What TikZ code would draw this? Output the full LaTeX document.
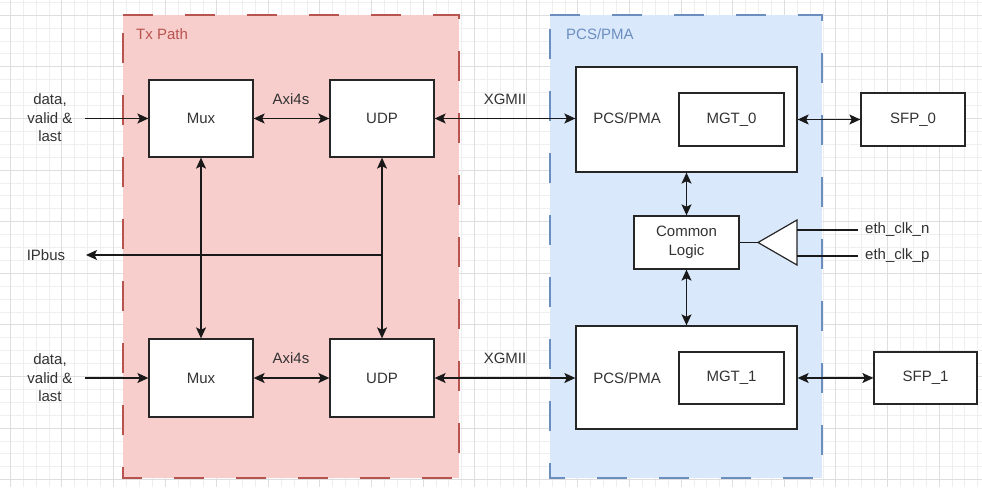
\documentclass[tikz,border=0pt]{standalone}
\usepackage{fontspec}
\setmainfont{Liberation Sans}
\usetikzlibrary{arrows.meta,calc}
\definecolor{redfill}{HTML}{F8CECC}
\definecolor{redline}{HTML}{B85450}
\definecolor{bluefill}{HTML}{DAE8FC}
\definecolor{blueline}{HTML}{6C8EBF}
\definecolor{txt}{HTML}{333333}
\definecolor{gridminor}{HTML}{EFEFEF}
\definecolor{gridmajor}{HTML}{DEDEDE}
\begin{document}
\begin{tikzpicture}[x=1pt,y=-1pt,
  font=\fontsize{15}{18.5}\selectfont,
  blk/.style={draw=black!85, line width=1.3pt, fill=white, text=txt, inner sep=0pt},
  lbl/.style={text=txt, inner sep=0pt, align=center},
  conn/.style={line width=1.3pt, draw=black!90},
  tipa/.tip={Stealth[length=11pt,width=10pt,inset=2.5pt]},
  bi/.style={conn, tipa-tipa},
  uni/.style={conn, -tipa},
  cont/.style={line width=2.6pt, dash pattern=on 30pt off 32pt},
]
\useasboundingbox (0,0) rectangle (982,487);
\fill[white] (0,0) rectangle (982,487);
% grid
\foreach \k in {0,...,75} \draw[gridminor, line width=0.6pt] ({10.1+12.9*\k},0) -- ++(0,487);
\foreach \k in {0,...,37} \draw[gridminor, line width=0.6pt] (0,{2.2+12.9*\k}) -- ++(982,0);
\foreach \k in {0,...,18} \draw[gridmajor, line width=0.8pt] ({10.1+51.6*\k},0) -- ++(0,487);
\foreach \k in {0,...,9} \draw[gridmajor, line width=0.8pt] (0,{15.1+51.6*\k}) -- ++(982,0);

% containers
\fill[redfill] (123,15) rectangle (459,478);
\draw[cont, draw=redline] (123,15) -- (459,15) -- (459,478) -- (123,478) -- cycle;
\fill[bluefill] (550,15) rectangle (822,478);
\draw[cont, draw=blueline] (550,15) -- (822,15) -- (822,478) -- (550,478) -- cycle;
\node[anchor=west, inner sep=0pt, text=redline] (txlbl) at (136,34) {Tx Path};
\node[anchor=west, inner sep=0pt, text=blueline] (pcslbl) at (566,34) {PCS/PMA};

% blocks
\node[blk, minimum width=104pt, minimum height=77pt] (mux0) at (201,118.5) {Mux};
\node[blk, minimum width=104pt, minimum height=77pt] (udp0) at (382,118.5) {UDP};
\node[blk, minimum width=104pt, minimum height=78pt] (mux1) at (201,378) {Mux};
\node[blk, minimum width=104pt, minimum height=78pt] (udp1) at (382,378) {UDP};
\node[blk, minimum width=221pt, minimum height=105pt] (pcs0) at (686.5,119.5) {};
\node[blk, minimum width=221pt, minimum height=103pt] (pcs1) at (686.5,377.5) {};
\node[lbl] (pcs0t) at (627,118.5) {PCS/PMA};
\node[lbl] (pcs1t) at (627,378) {PCS/PMA};
\node[blk, minimum width=105pt, minimum height=53pt] (mgt0) at (731.5,119.5) {MGT\_0};
\node[blk, minimum width=105pt, minimum height=52pt] (mgt1) at (731.5,378) {MGT\_1};
\node[blk, minimum width=104pt, minimum height=53pt] (sfp0) at (913,119.5) {SFP\_0};
\node[blk, minimum width=103pt, minimum height=52pt] (sfp1) at (925.5,378) {SFP\_1};
\node[blk, minimum width=105pt, minimum height=53pt, align=center] (common) at (686.5,242.5) {Common\\Logic};

% buffer triangle
\coordinate (tip) at (758,242.5);
\coordinate (btop) at (797,220);
\coordinate (bbot) at (797,265);
\draw[line width=1.2pt, draw=black!85, fill=white] (tip) -- (btop) -- (bbot) -- cycle;
\coordinate (bn) at (797,230);
\coordinate (bp) at (797,256);
\node[lbl, anchor=west] (ethn) at (865,230) {eth\_clk\_n};
\node[lbl, anchor=west] (ethp) at (865,256) {eth\_clk\_p};
\draw[conn, line width=1.1pt] (bn) -- ($(bn -| ethn.west)+(-7,0)$);
\draw[conn, line width=1.1pt] (bp) -- ($(bp -| ethp.west)+(-7,0)$);
\draw[conn, line width=1.1pt] (common.east) -- (tip);

% labels
\node[lbl] (in0) at (50,118) {data,\\valid \&\\last};
\node[lbl] (in1) at (50,378) {data,\\valid \&\\last};
\coordinate (in0s) at (85,118.5);
\coordinate (in1s) at (85,378);
\node[lbl] (ipbus) at (46,255) {IPbus};
\coordinate (ipbe) at (86,255);
\node[lbl] (axi0) at (291,99) {Axi4s};
\node[lbl] (axi1) at (291,358) {Axi4s};
\node[lbl] (xg0) at (505,99) {XGMII};
\node[lbl] (xg1) at (505,358) {XGMII};

% connectors
\draw[uni] (in0s) -- (mux0.west);
\draw[uni] (in1s) -- (mux1.west);
\draw[bi] (mux0.east) -- (udp0.west);
\draw[bi] (mux1.east) -- (udp1.west);
\draw[bi] (udp0.east) -- (udp0.east -| pcs0.west);
\draw[bi] (udp1.east) -- (udp1.east -| pcs1.west);
\draw[bi] (pcs0.east |- sfp0.west) -- (sfp0.west);
\draw[bi] (pcs1.east |- sfp1.west) -- (sfp1.west);
\draw[bi] (mux0.south) -- (mux1.north);
\draw[bi] (udp0.south) -- (udp1.north);
\draw[uni] (udp0.south |- ipbe) -- (ipbe);
\draw[bi] (common.north) -- (common.north |- pcs0.south);
\draw[bi] (common.south) -- (common.south |- pcs1.north);
\end{tikzpicture}
\end{document}
